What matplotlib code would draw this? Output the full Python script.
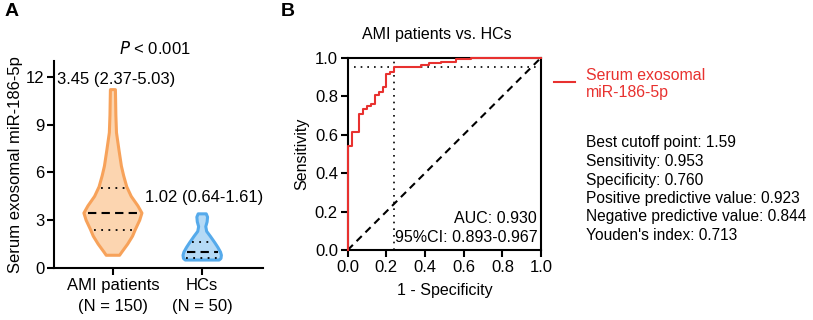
import numpy as np
import matplotlib.pyplot as plt

plt.rcParams['font.family'] = ['Liberation Sans', 'DejaVu Sans']
plt.rcParams['font.size'] = 11.5

# Panel A: violin outlines (level, half-width in category units)
groups = ['AMI patients\n(N = 150)', 'HCs\n(N = 50)']
ami_levels = [0.8, 1.0, 1.5, 2.0, 2.4, 3.0, 3.45, 3.9, 4.5, 5.1, 5.8, 6.4, 7.4, 8.5, 9.6, 10.6, 11.2]
ami_halfw = [0.075, 0.10, 0.165, 0.22, 0.25, 0.30, 0.325, 0.28, 0.205, 0.155, 0.12, 0.095, 0.068, 0.04, 0.033, 0.03, 0.028]
hc_levels = [0.5, 0.6, 0.8, 1.0, 1.3, 1.6, 2.0, 2.3, 2.6, 2.9, 3.2, 3.4]
hc_halfw = [0.19, 0.21, 0.215, 0.205, 0.175, 0.14, 0.09, 0.05, 0.04, 0.055, 0.06, 0.045]
ami_q = [2.37, 3.45, 5.03]
hc_q = [0.64, 1.02, 1.61]
ami_label = '3.45 (2.37-5.03)'
hc_label = '1.02 (0.64-1.61)'

# Panel B: ROC corner points
fpr = [0, 0, 0.02, 0.06, 0.08, 0.10, 0.12, 0.14, 0.16, 0.18, 0.20, 0.22, 0.24, 0.38, 0.42, 0.48, 0.56, 0.64, 1.0]
tpr = [0, 0.54, 0.613, 0.707, 0.733, 0.747, 0.76, 0.807, 0.82, 0.847, 0.913, 0.927, 0.953, 0.96, 0.973, 0.98, 0.993, 1.0, 1.0]
cut_fpr = 0.24
cut_tpr = 0.953
stats = ['Best cutoff point: 1.59', 'Sensitivity: 0.953', 'Specificity: 0.760',
         'Positive predictive value: 0.923', 'Negative predictive value: 0.844',
         "Youden's index: 0.713"]

fig = plt.figure(figsize=(8.13, 3.2), dpi=100)

# ---- Panel A ----
ax = fig.add_axes([0.0664, 0.1625, 0.257, 0.647])
violins = [(0, ami_levels, ami_halfw, ami_q, '#FCD5B0', '#F7A25A'),
           (1, hc_levels, hc_halfw, hc_q, '#B5DAF6', '#55AAEB')]
for xc, lv, hw, q, fc, ec in violins:
    lv = np.array(lv)
    hw = np.array(hw)
    xs = np.concatenate([xc - hw, (xc + hw)[::-1]])
    ys = np.concatenate([lv, lv[::-1]])
    ax.fill(xs, ys, facecolor=fc, edgecolor=ec, lw=2.2, joinstyle='round', zorder=2)
    for k, val in enumerate(q):
        w = np.interp(val, lv, hw) * 0.85
        ls = (0, (4, 2.5)) if k == 1 else (0, (1, 3))
        lw = 1.5 if k == 1 else 1.3
        ax.plot([xc - w, xc + w], [val, val], color='black', ls=ls, lw=lw, zorder=3)

ax.set_xlim(-0.66, 1.68)
ax.set_ylim(0, 13)
ax.set_yticks([0, 3, 6, 9, 12])
ax.set_xticks([0, 1])
ax.set_xticklabels(groups, linespacing=1.5, fontsize=12)
ax.tick_params(axis='y', labelsize=12)
ax.set_ylabel('Serum exosomal miR-186-5p', labelpad=2, fontsize=12)
for s in ['top', 'right']:
    ax.spines[s].set_visible(False)
for s in ['left', 'bottom']:
    ax.spines[s].set_linewidth(1.5)
ax.tick_params(width=1.5, length=5, pad=2)
ax.text(-0.63, 11.85, ami_label, ha='left', va='center', fontsize=12)
ax.text(1.02, 4.4, hc_label, ha='center', va='center', fontsize=12)
ax.text(0.47, 13.8, '$P$ < 0.001', ha='center', va='center', fontsize=12, clip_on=False)
fig.text(0.006, 0.965, 'A', fontsize=14, fontweight='bold', va='center')

# ---- Panel B ----
bx = fig.add_axes([0.4277, 0.21875, 0.2378, 0.601])
bx.plot([0, 1], [0, 1], color='black', ls=(0, (3.5, 2.5)), lw=1.5)
bx.plot([0.03, 1], [cut_tpr, cut_tpr], color='black', ls=(0, (1, 3)), lw=1.2)
bx.plot([cut_fpr, cut_fpr], [0, 1], color='black', ls=(0, (1, 3)), lw=1.2)
bx.plot(fpr, tpr, drawstyle='steps-post', color='#E8312F', lw=1.5, zorder=5, clip_on=False)
bx.set_xlim(0, 1)
bx.set_ylim(0, 1)
bx.set_xticks(np.arange(0, 1.01, 0.2))
bx.set_yticks(np.arange(0, 1.01, 0.2))
bx.set_xticklabels(['0.0', '0.2', '0.4', '0.6', '0.8', '1.0'])
bx.set_yticklabels(['0.0', '0.2', '0.4', '0.6', '0.8', '1.0'])
for s in bx.spines.values():
    s.set_linewidth(1.5)
bx.tick_params(width=1.5, length=5, pad=2, labelsize=12)
bx.set_xlabel('1 - Specificity', labelpad=6)
bx.set_ylabel('Sensitivity', labelpad=4)
bx.text(0.46, 1.12, 'AMI patients vs. HCs', transform=bx.transAxes, ha='center', va='center')
bx.text(0.98, 0.165, 'AUC: 0.930', ha='right', va='center')
bx.text(0.98, 0.066, '95%CI: 0.893-0.967', ha='right', va='center')
fig.text(0.345, 0.965, 'B', fontsize=14, fontweight='bold', va='center')

# legend and stats
fig.lines.append(plt.Line2D([554 / 813, 575 / 813], [1 - 82 / 320, 1 - 82 / 320],
                            color='#E8312F', lw=1.5, transform=fig.transFigure))
fig.text(586 / 813, 1 - 75 / 320, 'Serum exosomal', color='#E8312F', va='center', fontsize=11.4)
fig.text(586 / 813, 1 - 92 / 320, 'miR-186-5p', color='#E8312F', va='center', fontsize=11.4)
for i, line in enumerate(stats):
    fig.text(586 / 813, 1 - (143 + 18.5 * i) / 320, line, va='center', fontsize=11.2)

fig.savefig('out.png', dpi=100)
